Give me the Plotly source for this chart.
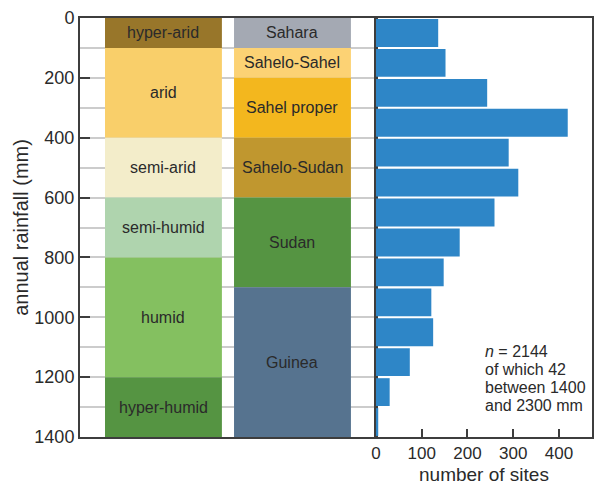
import plotly.graph_objects as go

# ---- data ----
bin_centers = [50, 150, 250, 350, 450, 550, 650, 750, 850, 950, 1050, 1150, 1250, 1350]
site_counts = [136, 152, 243, 419, 290, 311, 259, 183, 148, 121, 125, 74, 30, 5]

climate_labels = ["hyper-arid", "arid", "semi-arid", "semi-humid", "humid", "hyper-humid"]
climate_start = [0, 100, 400, 600, 800, 1200]
climate_end = [100, 400, 600, 800, 1200, 1400]
climate_colors = ["#98762a", "#f9cf6a", "#f3edca", "#afd4ae", "#84c060", "#559442"]

zone_labels = ["Sahara", "Sahelo-Sahel", "Sahel proper", "Sahelo-Sudan", "Sudan", "Guinea"]
zone_start = [0, 100, 200, 400, 600, 900]
zone_end = [100, 200, 400, 600, 900, 1400]
zone_colors = ["#a4a9b3", "#fcd274", "#f3b71e", "#c0972f", "#559442", "#56738f"]

y_ticks = [0, 200, 400, 600, 800, 1000, 1200, 1400]
x_ticks = [0, 100, 200, 300, 400]

note_lines = ["<i>n</i> = 2144", "of which 42", "between 1400", "and 2300 mm"]

# ---- layout constants ----
COL1_X, COL2_X, COL_W = 0.282, 0.718, 0.395
SPLIT = 0.578
LINE = "#3d3d3d"
TXT = "#2a2a2a"
SANS = "Liberation Sans, Arial"

fig = go.Figure()

for col_x, labels, starts, ends, colors in [
    (COL1_X, climate_labels, climate_start, climate_end, climate_colors),
    (COL2_X, zone_labels, zone_start, zone_end, zone_colors),
]:
    fig.add_trace(go.Bar(
        x=[col_x] * len(labels),
        y=[e - s for s, e in zip(starts, ends)],
        base=starts,
        width=COL_W,
        marker=dict(color=colors, line=dict(width=0)),
        xaxis="x", yaxis="y",
        hoverinfo="skip", showlegend=False,
    ))
    for lab, s, e in zip(labels, starts, ends):
        fig.add_annotation(
            x=col_x, y=(s + e) / 2, xref="x", yref="y",
            text=lab, showarrow=False,
            font=dict(family=SANS, size=16, color=TXT),
        )

fig.add_trace(go.Bar(
    x=site_counts, y=bin_centers, orientation="h",
    marker=dict(color="#2e86c7", line=dict(width=0)),
    xaxis="x2", yaxis="y2",
    hoverinfo="skip", showlegend=False,
))

for i, line in enumerate(note_lines):
    fig.add_annotation(
        x=234, y=1115 + i * 60, xref="x2", yref="y2",
        text=line, showarrow=False, xanchor="left", yanchor="middle",
        font=dict(family=SANS, size=16, color=TXT),
    )

fig.update_layout(
    width=596, height=485,
    margin=dict(l=80, r=4, t=18, b=48),
    paper_bgcolor="white", plot_bgcolor="white",
    barmode="overlay", bargap=0.07,
    xaxis=dict(domain=[0, SPLIT], range=[0, 1], showticklabels=False, ticks="",
               showgrid=False, zeroline=False, showline=True, mirror=True,
               linecolor=LINE, linewidth=2, anchor="y", fixedrange=True, automargin=False),
    yaxis=dict(range=[1400, 0], tickvals=y_ticks, ticks="inside", ticklen=10,
               tickcolor=LINE, tickwidth=1.5,
               showgrid=True, gridcolor="#cccccc", gridwidth=1.5,
               minor=dict(dtick=100, showgrid=True, gridcolor="#cccccc", gridwidth=1.5, ticks=""),
               zeroline=False, showline=True, mirror=True, linecolor=LINE, linewidth=2,
               tickfont=dict(family=SANS, size=18, color=TXT), automargin=False,
               title=dict(text="annual rainfall (mm)", standoff=0,
                          font=dict(family=SANS, size=20, color=TXT)),
               anchor="x"),
    xaxis2=dict(domain=[SPLIT, 1], range=[0, 472], tickvals=x_ticks, ticks="inside",
                ticklen=8, tickcolor=LINE, tickwidth=1.5, showgrid=False, zeroline=False,
                showline=True, mirror=True, linecolor=LINE, linewidth=2, automargin=False,
                tickfont=dict(family=SANS, size=17, color=TXT),
                title=dict(text="number of sites", standoff=6,
                           font=dict(family=SANS, size=19, color=TXT)),
                anchor="y2"),
    yaxis2=dict(matches="y", range=[1400, 0], showticklabels=False, ticks="",
                showgrid=False, zeroline=False, showline=True, mirror=True,
                linecolor=LINE, linewidth=2, anchor="x2", automargin=False),
)

fig.write_html("out.html", config={"displayModeBar": False},
               post_script="document.body.style.margin='0';document.body.style.overflow='hidden';")
